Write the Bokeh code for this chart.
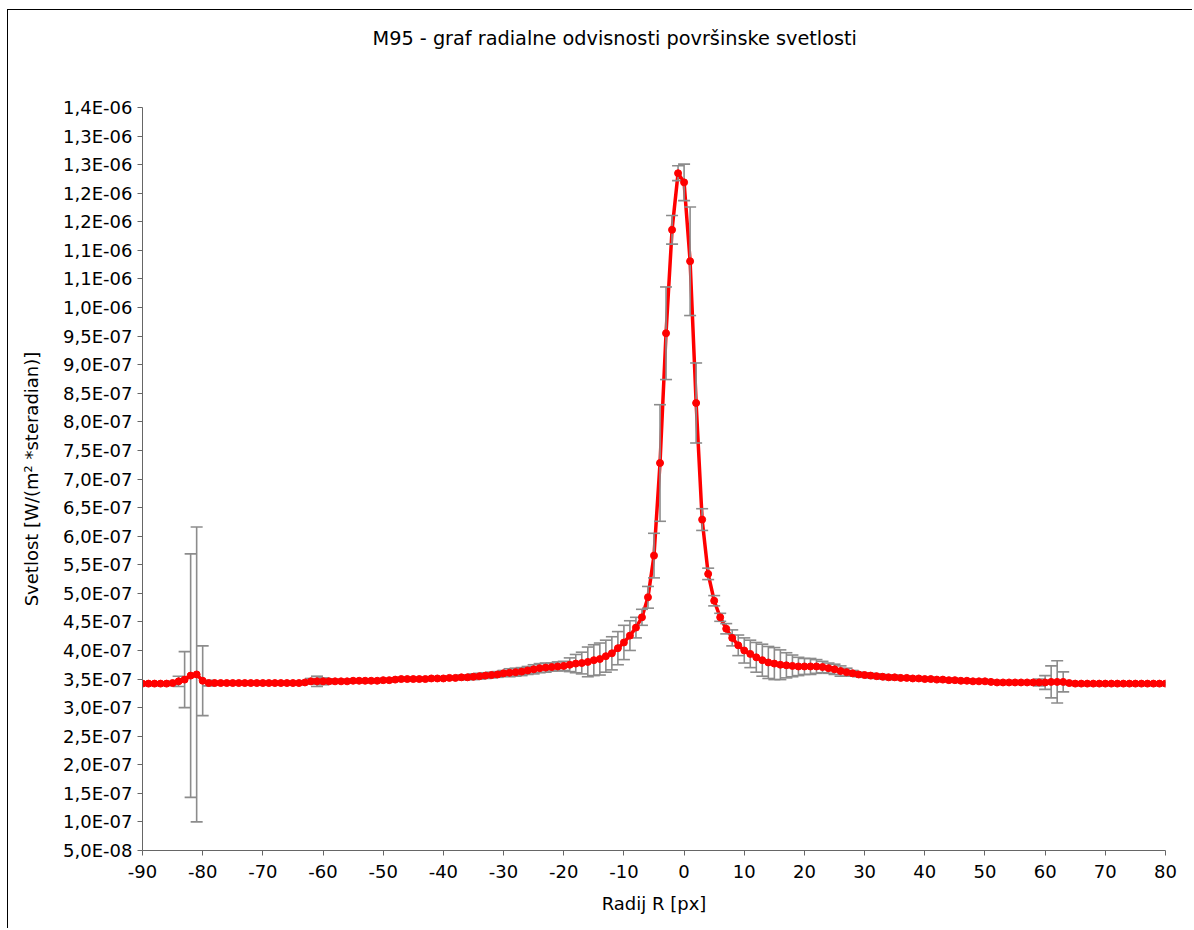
from bokeh.plotting import figure
from bokeh.models import ColumnDataSource, Whisker, TeeHead, FixedTicker, Range1d, Title
from bokeh.embed import file_html
from bokeh.resources import INLINE

TITLE = "M95 - graf radialne odvisnosti površinske svetlosti"
X_LABEL = "Radij R [px]"
Y_LABEL = "Svetlost [W/(m² *steradian)]"

# radius in px
radius = list(range(-90, 81))

# surface brightness, in units of 1e-7 W/(m^2 sr)
brightness_e7 = [
    3.42, 3.42, 3.42, 3.42, 3.42, 3.43, 3.46, 3.49, 3.56, 3.58,   # -90 .. -81
    3.47, 3.43, 3.43, 3.43, 3.43, 3.43, 3.43, 3.43, 3.43, 3.43,   # -80 .. -71
    3.43, 3.43, 3.43, 3.43, 3.43, 3.43, 3.43, 3.44, 3.46, 3.46,   # -70 .. -61
    3.46, 3.46, 3.46, 3.46, 3.46, 3.47, 3.47, 3.47, 3.47, 3.47,   # -60 .. -51
    3.48, 3.48, 3.49, 3.50, 3.50, 3.50, 3.50, 3.50, 3.51, 3.51,   # -50 .. -41
    3.51, 3.52, 3.52, 3.53, 3.53, 3.54, 3.55, 3.56, 3.57, 3.58,   # -40 .. -31
    3.60, 3.61, 3.62, 3.63, 3.65, 3.67, 3.69, 3.70, 3.71, 3.72,   # -30 .. -21
    3.73, 3.75, 3.77, 3.78, 3.80, 3.83, 3.85, 3.90, 3.95, 4.04,   # -20 .. -11
    4.14, 4.26, 4.40, 4.58, 4.93, 5.66, 7.28, 9.55, 11.36, 12.35, # -10 .. -1
    12.19,                                                         # 0
    10.81, 8.33, 6.29, 5.34, 4.87, 4.58, 4.38, 4.22, 4.09, 4.00,  # 1 .. 10
    3.94, 3.88, 3.83, 3.79, 3.77, 3.75, 3.74, 3.73, 3.72, 3.72,   # 11 .. 20
    3.72, 3.72, 3.71, 3.69, 3.67, 3.64, 3.62, 3.60, 3.58, 3.57,   # 21 .. 30
    3.56, 3.55, 3.54, 3.53, 3.53, 3.52, 3.52, 3.51, 3.51, 3.50,   # 31 .. 40
    3.50, 3.49, 3.49, 3.48, 3.48, 3.47, 3.47, 3.46, 3.46, 3.46,   # 41 .. 50
    3.45, 3.44, 3.44, 3.44, 3.44, 3.44, 3.44, 3.44, 3.44, 3.44,   # 51 .. 60
    3.45, 3.45, 3.45, 3.43, 3.42, 3.42, 3.42, 3.42, 3.42, 3.42,   # 61 .. 70
    3.42, 3.42, 3.42, 3.42, 3.42, 3.42, 3.42, 3.42, 3.42, 3.42,   # 71 .. 80
]

# error (+/-), in units of 1e-8
error_e8 = [
    0.3, 0.3, 0.3, 0.3, 0.3, 0.3, 0.9, 4.9, 21.3, 25.8,   # -90 .. -81
    6.1, 0.5, 0.3, 0.3, 0.3, 0.3, 0.3, 0.3, 0.3, 0.3,     # -80 .. -71
    0.3, 0.3, 0.3, 0.3, 0.3, 0.3, 0.3, 0.3, 0.5, 0.9,     # -70 .. -61
    0.6, 0.4, 0.3, 0.3, 0.3, 0.3, 0.3, 0.3, 0.3, 0.3,     # -60 .. -51
    0.3, 0.3, 0.3, 0.3, 0.3, 0.3, 0.3, 0.3, 0.3, 0.3,     # -50 .. -41
    0.3, 0.3, 0.3, 0.4, 0.4, 0.5, 0.5, 0.5, 0.5, 0.5,     # -40 .. -31
    0.5, 0.7, 0.7, 0.7, 0.7, 0.8, 0.8, 0.8, 0.7, 0.8,     # -30 .. -21
    0.8, 1.2, 1.6, 1.9, 2.6, 2.7, 2.8, 2.8, 2.9, 2.9,     # -20 .. -11
    3.0, 2.6, 1.8, 1.4, 1.9, 3.9, 10.2, 8.1, 2.5, 1.3,    # -10 .. -1
    3.2,                                                   # 0
    9.5, 7.0, 1.9, 1.0, 0.9, 0.7, 0.9, 1.4, 1.8, 2.2,     # 1 .. 10
    2.4, 2.6, 2.8, 2.8, 2.8, 2.6, 2.2, 1.9, 1.6, 1.4,     # 11 .. 20
    1.4, 1.2, 1.0, 0.9, 0.9, 0.9, 0.7, 0.5, 0.4, 0.4,     # 21 .. 30
    0.4, 0.4, 0.4, 0.4, 0.4, 0.3, 0.3, 0.3, 0.3, 0.3,     # 31 .. 40
    0.3, 0.3, 0.3, 0.3, 0.3, 0.3, 0.3, 0.3, 0.3, 0.3,     # 41 .. 50
    0.3, 0.3, 0.3, 0.3, 0.3, 0.3, 0.3, 0.3, 0.6, 1.2,     # 51 .. 60
    2.8, 3.7, 1.75, 0.3, 0.3, 0.3, 0.3, 0.3, 0.3, 0.3,    # 61 .. 70
    0.3, 0.3, 0.3, 0.3, 0.3, 0.3, 0.3, 0.3, 0.3, 0.3,     # 71 .. 80
]

x_ticks = [-90, -80, -70, -60, -50, -40, -30, -20, -10, 0, 10, 20, 30, 40, 50, 60, 70, 80]
x_tick_labels = ["-90", "-80", "-70", "-60", "-50", "-40", "-30", "-20", "-10", "0",
                 "10", "20", "30", "40", "50", "60", "70", "80"]

y_ticks = [5.0e-08, 1.0e-07, 1.5e-07, 2.0e-07, 2.5e-07, 3.0e-07, 3.5e-07, 4.0e-07,
           4.5e-07, 5.0e-07, 5.5e-07, 6.0e-07, 6.5e-07, 7.0e-07, 7.5e-07, 8.0e-07,
           8.5e-07, 9.0e-07, 9.5e-07, 1.0e-06, 1.05e-06, 1.1e-06, 1.15e-06, 1.2e-06,
           1.25e-06, 1.3e-06, 1.35e-06]
y_tick_labels = ["5,0E-08", "1,0E-07", "1,5E-07", "2,0E-07", "2,5E-07", "3,0E-07", "3,5E-07",
                 "4,0E-07", "4,5E-07", "5,0E-07", "5,5E-07", "6,0E-07", "6,5E-07", "7,0E-07",
                 "7,5E-07", "8,0E-07", "8,5E-07", "9,0E-07", "9,5E-07", "1,0E-06", "1,1E-06",
                 "1,1E-06", "1,2E-06", "1,2E-06", "1,3E-06", "1,3E-06", "1,4E-06"]

assert len(radius) == len(brightness_e7) == len(error_e8)

brightness = [b * 1e-7 for b in brightness_e7]
err = [e * 1e-8 for e in error_e8]
source = ColumnDataSource(data=dict(
    x=radius,
    y=brightness,
    upper=[b + e for b, e in zip(brightness, err)],
    lower=[b - e for b, e in zip(brightness, err)],
))

FONT = "DejaVu Sans"
FS = "18px"

p = figure(width=1185, height=919, output_backend="svg", toolbar_location=None,
           x_range=Range1d(-90, 80), y_range=Range1d(5e-08, 1.35e-06),
           min_border_left=134, min_border_right=28, min_border_top=97, min_border_bottom=79)
p.styles = {"margin-left": "7px", "margin-top": "9px",
            "border-left": "1px solid #000000", "border-top": "1px solid #000000"}
p.xgrid.visible = False
p.ygrid.visible = False
p.outline_line_color = None
p.background_fill_color = "white"
p.border_fill_color = "white"

p.title.text = TITLE
p.title.align = "left"
p.title.offset = 230
p.title.text_font = FONT
p.title.text_font_size = "19.3px"
p.title.text_font_style = "normal"
p.title.text_color = "#000000"

# blank spacer between the title and the plot area (keeps the title near the top)
spacer = Title(text=" ", text_font_size="30px", standoff=18)
p.above.insert(0, spacer)

p.line("x", "y", source=source, line_color="#FF0000", line_width=3.5, level="underlay")

whisk = Whisker(base="x", upper="upper", lower="lower", source=source,
                line_color="#8C8C8C", line_width=1.6, level="underlay",
                upper_head=TeeHead(size=12, line_color="#8C8C8C", line_width=1.6),
                lower_head=TeeHead(size=12, line_color="#8C8C8C", line_width=1.6))
p.add_layout(whisk)

p.scatter("x", "y", source=source, size=7, fill_color="#FF0000", line_color="#FF0000")

for ax in (p.xaxis[0], p.yaxis[0]):
    ax.axis_line_color = "#666666"
    ax.major_tick_line_color = "#666666"
    ax.major_tick_out = 5
    ax.major_tick_in = 0
    ax.minor_tick_line_color = None
    ax.major_label_text_font = FONT
    ax.major_label_text_font_size = FS
    ax.major_label_text_color = "#000000"
    ax.axis_label_text_font = FONT
    ax.axis_label_text_font_size = FS
    ax.axis_label_text_font_style = "normal"
    ax.axis_label_text_color = "#000000"

p.xaxis.ticker = FixedTicker(ticks=x_ticks)
p.xaxis.major_label_overrides = {t: l for t, l in zip(x_ticks, x_tick_labels)}
p.xaxis.axis_label = X_LABEL
p.xaxis.major_label_standoff = 9
p.xaxis.axis_label_standoff = 12

p.yaxis.ticker = FixedTicker(ticks=y_ticks)
p.yaxis.major_label_overrides = {t: l for t, l in zip(y_ticks, y_tick_labels)}
p.yaxis.axis_label = Y_LABEL
p.yaxis.major_label_standoff = 5
p.yaxis.axis_label_standoff = 18

open("out.html", "w").write(file_html(p, INLINE))
